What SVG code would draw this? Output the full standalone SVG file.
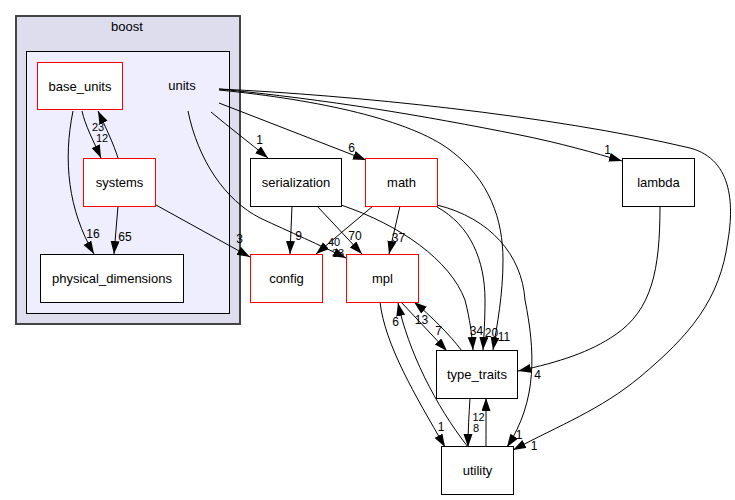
<svg xmlns="http://www.w3.org/2000/svg" width="735" height="500" viewBox="0 0 735 500">
<defs>
<marker id="ah" markerUnits="userSpaceOnUse" markerWidth="14" markerHeight="10" refX="13" refY="4.5" orient="auto">
<path d="M0,0 L13,4.5 L0,9 z" fill="#000"/>
</marker>
<style>
text{font-family:"Liberation Sans",Arial,Helvetica,sans-serif;fill:#000}
.n{font-size:13px;text-anchor:middle}
.l{font-size:12px;text-anchor:middle}
.s{font-size:11px}
.bx{fill:#fff;stroke:#000;stroke-width:1}
.rd{fill:#fff;stroke:#ff0000;stroke-width:1}
.e{fill:none;stroke:#000;stroke-width:1;marker-end:url(#ah)}
</style>
</defs>
<rect width="735" height="500" fill="#fff"/>
<g id="cluster_boost">
<rect x="16" y="16" width="224" height="308" fill="#ddddee" stroke="#444444" stroke-width="2"/>
<text class="n" x="127" y="31">boost</text>
</g>
<g id="cluster_units">
<rect x="26.5" y="51.5" width="203" height="262" fill="#eeeeff" stroke="#000" stroke-width="1"/>
<text class="n" x="182" y="90">units</text>
</g>
<g id="connectors">
<path class="e" d="M82,111 C85,125 93,140 101,158"/>
<path class="e" d="M118,158 C114,145 106,128 98,111"/>
<path class="e" d="M73,111 C63,160 68,210 94,254"/>
<path class="e" d="M118,206 L114,254"/>
<path class="e" d="M156,205 L250,257"/>
<path class="e" d="M211,112 C230,128 250,143 268,158"/>
<path class="e" d="M219,103 L366,160"/>
<path class="e" d="M219,89 C330,100 420,115 520,135 C560,143 595,153 622,161"/>
<path class="e" d="M219,89 C350,95 550,115 690,148 C735,160 733,210 728,240 C720,300 690,335 640,377 C600,410 560,425 513,450"/>
<path class="e" d="M219,90 C320,100 410,120 450,150 C490,180 503,220 503,260 C503,295 497,325 493,350"/>
<path class="e" d="M292,206 L290,254"/>
<path class="e" d="M317,206 L362,254"/>
<path class="e" d="M341,205 C400,225 450,260 465,300 C470,320 472,335 473,350"/>
<path class="e" d="M400,206 L389,254"/>
<path class="e" d="M437,207 C470,225 485,260 485,300 C485,320 484,335 483,350"/>
<path class="e" d="M437,205 C490,218 522,255 525,300 C535,350 538,400 507,447"/>
<path class="e" d="M380,302 C385,345 415,395 445,447"/>
<path class="e" d="M468,447 C435,405 408,350 398,303"/>
<path class="e" d="M462,351 C450,335 430,315 414,302"/>
<path class="e" d="M401,302 L447,351"/>
<path class="e" d="M470,398 C469,415 468,430 468,447"/>
<path class="e" d="M486,447 C486,430 486,415 486,398"/>
<path class="e" d="M660,206 C660,270 652,310 615,335 C590,352 560,362 518,371"/>
<text class="l s" x="338" y="257">33</text>
<path class="e" d="M188,111 C198,160 225,200 260,218 C290,232 320,245 346,258"/>
<path class="e" d="M373,206 L316,254"/>
<text class="l s" x="98" y="131">23</text>
<text class="l s" x="102" y="142">12</text>
<text class="l" x="93" y="238">16</text>
<text class="l" x="125" y="241">65</text>
<text class="l" x="239.5" y="243">3</text>
<text class="l" x="259.5" y="144">1</text>
<text class="l" x="351.5" y="151.5">6</text>
<text class="l" x="298.5" y="240">9</text>
<text class="l" x="355" y="240">70</text>
<text class="l s" x="334" y="246">40</text>
<text class="l" x="398.5" y="242">37</text>
<text class="l" x="476.5" y="335">34</text>
<text class="l" x="491.5" y="336.5">20</text>
<text class="l" x="504" y="340.5">11</text>
<text class="l" x="421.5" y="324">13</text>
<text class="l" x="438.5" y="335">7</text>
<text class="l" x="395.5" y="325.5">6</text>
<text class="l" x="537.5" y="379">4</text>
<text class="l s" x="478.5" y="420.5">12</text>
<text class="l s" x="476" y="432">8</text>
<text class="l" x="441" y="430.5">1</text>
<text class="l" x="519" y="439">1</text>
<text class="l" x="534" y="450">1</text>
<text class="l" x="607.5" y="154">1</text>
</g>
<g id="node_base_units">
<rect class="rd" x="37.5" y="62.5" width="85" height="47"/>
<text class="n" x="80" y="90.5">base_units</text>
</g>
<g id="node_systems">
<rect class="rd" x="83.5" y="158.5" width="72" height="48"/>
<text class="n" x="119.5" y="186.5">systems</text>
</g>
<g id="node_physical_dimensions">
<rect class="bx" x="40.5" y="254.5" width="143" height="48"/>
<text class="n" x="112" y="282.5">physical_dimensions</text>
</g>
<g id="node_serialization">
<rect class="bx" x="250.5" y="158.5" width="91" height="48"/>
<text class="n" x="296" y="186.5">serialization</text>
</g>
<g id="node_math">
<rect class="rd" x="365.5" y="158.5" width="72" height="48"/>
<text class="n" x="401.5" y="186.5">math</text>
</g>
<g id="node_lambda">
<rect class="bx" x="622.5" y="158.5" width="72" height="48"/>
<text class="n" x="658.5" y="186.5">lambda</text>
</g>
<g id="node_config">
<rect class="rd" x="250.5" y="254.5" width="72" height="48"/>
<text class="n" x="286.5" y="282.5">config</text>
</g>
<g id="node_mpl">
<rect class="rd" x="346.5" y="254.5" width="72" height="48"/>
<text class="n" x="382.5" y="282.5">mpl</text>
</g>
<g id="node_type_traits">
<rect class="bx" x="436.5" y="350.5" width="81" height="48"/>
<text class="n" x="477" y="378.5">type_traits</text>
</g>
<g id="node_utility">
<rect class="bx" x="441.5" y="446.5" width="72" height="48"/>
<text class="n" x="477.5" y="474.5">utility</text>
</g>
</svg>
